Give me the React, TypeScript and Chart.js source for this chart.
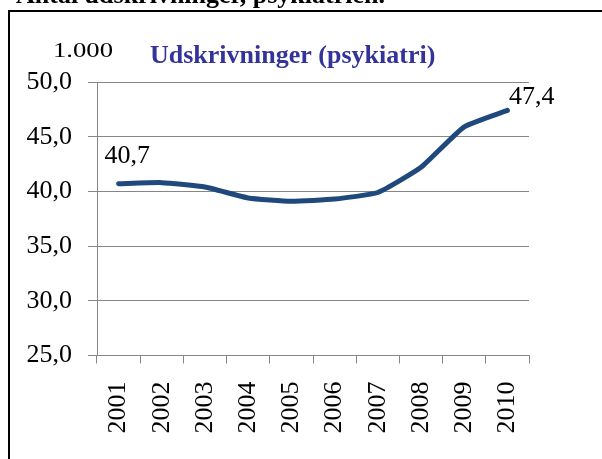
import React, { useEffect, useRef } from "react";
import { Chart, registerables } from "chart.js";

Chart.register(...registerables);

const categories = ["2001", "2002", "2003", "2004", "2005", "2006", "2007", "2008", "2009", "2010"];
const values = [40.7, 40.8, 40.4, 39.4, 39.1, 39.3, 39.9, 42.2, 45.9, 47.4];
const yMin = 25;
const yMax = 50;
const yStep = 5;
const pageTitle = "Antal udskrivninger, psykiatrien.";
const chartTitle = "Udskrivninger (psykiatri)";
const unitLabel = "1.000";

const SERIF = "'Liberation Serif', 'Times New Roman', serif";
const fmt = (v: number) => v.toFixed(1).replace(".", ",");

const decorPlugin = {
  id: "decor",
  beforeDraw(chart: any) {
    const ctx = chart.ctx;
    ctx.save();
    ctx.fillStyle = "#ffffff";
    ctx.fillRect(0, 0, chart.width, chart.height);
    ctx.strokeStyle = "#000000";
    ctx.lineWidth = 2;
    ctx.strokeRect(9, 11, 700, 600);
    ctx.fillStyle = "#000000";
    ctx.font = `bold 26px ${SERIF}`;
    ctx.textAlign = "left";
    ctx.textBaseline = "alphabetic";
    ctx.fillText(pageTitle, 16, 3);
    ctx.save();
    ctx.translate(53, 56.5);
    ctx.scale(1.27, 1);
    ctx.font = `21px ${SERIF}`;
    ctx.fillText(unitLabel, 0, 0);
    ctx.restore();
    ctx.fillStyle = "#333399";
    ctx.font = `bold 26px ${SERIF}`;
    ctx.fillText(chartTitle, 150, 63);
    ctx.restore();
  },
  afterDatasetsDraw(chart: any) {
    const ctx = chart.ctx;
    const meta = chart.getDatasetMeta(0);
    const n = values.length;
    const first = meta.data[0];
    const last = meta.data[n - 1];
    ctx.save();
    ctx.fillStyle = "#000000";
    ctx.font = `26px ${SERIF}`;
    ctx.textAlign = "left";
    ctx.textBaseline = "alphabetic";
    ctx.fillText(fmt(values[0]), first.x - 14, first.y - 21);
    ctx.fillText(fmt(values[n - 1]), last.x + 1.5, last.y - 6);
    ctx.restore();
  },
};

export default function App() {
  const ref = useRef<HTMLCanvasElement | null>(null);
  useEffect(() => {
    if (!ref.current) return;
    const chart = new Chart(ref.current, {
      type: "line",
      data: {
        labels: categories,
        datasets: [
          {
            data: values,
            borderColor: "#1F497D",
            borderWidth: 5,
            borderCapStyle: "round",
            borderJoinStyle: "round",
            pointRadius: 0,
            tension: 0.15,
            fill: false,
          },
        ],
      },
      options: {
        animation: false,
        responsive: false,
        devicePixelRatio: 1,
        layout: { padding: { top: 82, left: 0, right: 73, bottom: 0 } },
        plugins: {
          legend: { display: false },
          title: { display: false },
          tooltip: { enabled: false },
        },
        scales: {
          x: {
            offset: true,
            grid: {
              offset: true,
              drawOnChartArea: false,
              drawTicks: true,
              tickLength: 8,
              color: "#868686",
            },
            border: { display: true, color: "#868686" },
            ticks: {
              autoSkip: false,
              minRotation: 90,
              maxRotation: 90,
              padding: 18,
              color: "#000000",
              font: { family: SERIF, size: 26 },
            },
            afterFit: (s: any) => {
              s.height = 103.5;
              s.paddingLeft = 0;
              s.paddingRight = 0;
            },
          },
          y: {
            min: yMin,
            max: yMax,
            ticks: {
              stepSize: yStep,
              padding: 16,
              color: "#000000",
              font: { family: SERIF, size: 26 },
              callback: (v: any) => fmt(Number(v)),
            },
            grid: {
              color: "#868686",
              tickLength: 9,
              drawTicks: true,
            },
            border: { display: true, color: "#868686" },
            afterFit: (s: any) => {
              s.width = 97;
            },
          },
        },
      },
      plugins: [decorPlugin],
    });
    return () => chart.destroy();
  }, []);
  return (
    <div style={{ position: "absolute", left: 0, top: 0, width: 602, height: 459, overflow: "hidden" }}>
      <canvas ref={ref} width={602} height={459} style={{ width: 602, height: 459, display: "block" }} />
    </div>
  );
}
